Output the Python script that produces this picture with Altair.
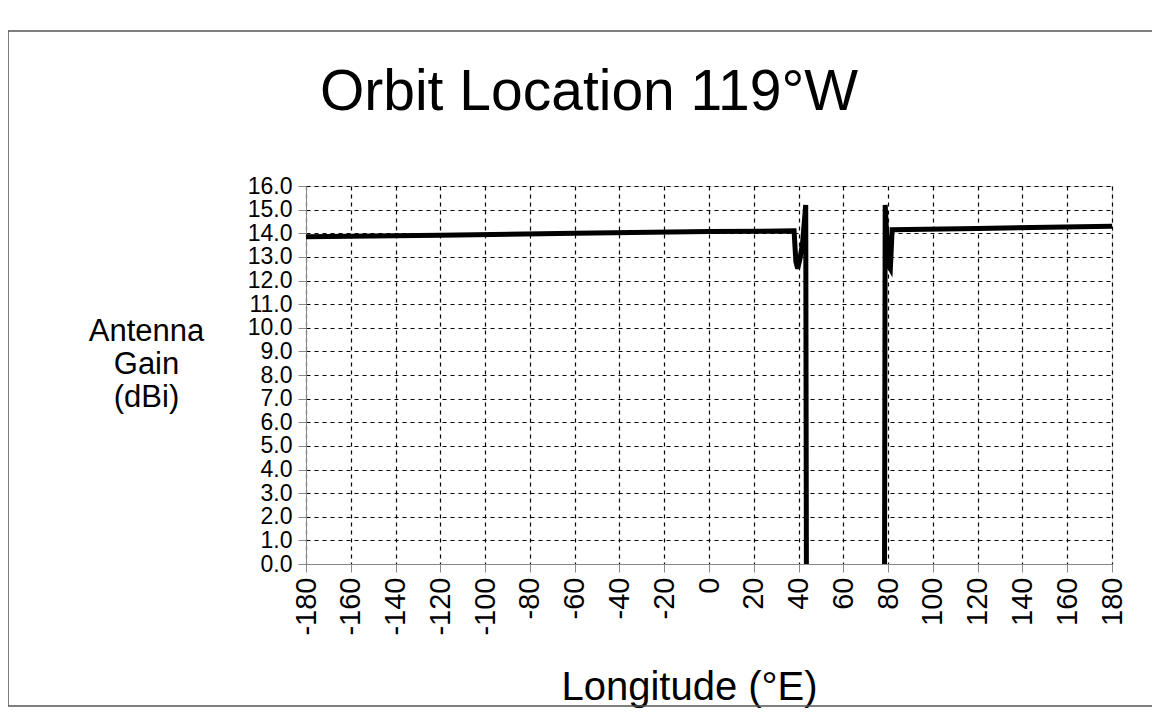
import altair as alt
import pandas as pd

# ---- data ----
lon_west = [-180, -120, -60, 0, 38.0, 38.8, 39.6, 40.6, 41.8, 43.2, 43.5]
gain_west = [13.85, 13.92, 14.0, 14.07, 14.1, 12.8, 12.5, 12.9, 13.6, 15.2, 0.0]
lon_east = [78.4, 78.7, 79.6, 80.4, 81.0, 81.8, 120, 180]
gain_east = [0.0, 15.2, 13.5, 12.6, 12.5, 14.15, 14.2, 14.3]

x_ticks = list(range(-180, 181, 20))
y_ticks = list(range(0, 17))
title_text = "Orbit Location 119°W"
y_title = ["Antenna", "Gain", "(dBi)"]
x_title = "Longitude (°E)"

FONT = "Liberation Sans"

df = pd.DataFrame(
    {
        "lon": lon_west + lon_east,
        "gain": gain_west + gain_east,
        "seg": ["west"] * len(lon_west) + ["east"] * len(lon_east),
    }
)

W, H = 806, 378

grid_style = dict(gridColor="black", gridDash=[4, 4], gridWidth=1.2, gridOpacity=1)

line = (
    alt.Chart(df)
    .mark_line(color="black", strokeWidth=5, clip=True, strokeJoin="miter")
    .encode(
        x=alt.X(
            "lon:Q",
            scale=alt.Scale(domain=[-180, 180], nice=False, zero=False),
            axis=alt.Axis(
                values=x_ticks,
                format="d",
                labelExpr="replace(datum.label, '\u2212', '-')",
                labelAngle=270,
                labelFontSize=29,
                labelPadding=5,
                tickSize=8,
                title=x_title,
                titleFontSize=40,
                titleFontWeight="normal",
                titleAlign="center",
                titleBaseline="alphabetic",
                titleX=383,
                titleY=135,
                **grid_style,
            ),
        ),
        y=alt.Y(
            "gain:Q",
            scale=alt.Scale(domain=[0, 16], nice=False, zero=False),
            axis=alt.Axis(
                values=y_ticks,
                format=".1f",
                labelFontSize=23,
                labelPadding=6,
                tickSize=8,
                title=y_title,
                titleAngle=0,
                titleFontSize=31,
                titleFontWeight="normal",
                titleAlign="center",
                titleBaseline="alphabetic",
                titleLineHeight=33,
                titleX=-160,
                titleY=154,
                **grid_style,
            ),
        ),
        detail="seg:N",
        order="lon:Q",
    )
)

frame = (
    alt.Chart(alt.Data(values=[{"k": 1}]))
    .mark_rect(fillOpacity=0, stroke="#555555", strokeWidth=1.5)
    .encode(
        x=alt.value(-298),
        x2=alt.value(869),
        y=alt.value(-155),
        y2=alt.value(520),
    )
)

title = (
    alt.Chart(alt.Data(values=[{"t": title_text}]))
    .mark_text(
        font=FONT,
        fontSize=57,
        color="black",
        align="center",
        baseline="alphabetic",
    )
    .encode(text="t:N", x=alt.value(283), y=alt.value(-76))
)

chart = (
    alt.layer(frame, line, title)
    .properties(
        width=W,
        height=H,
        autosize=alt.AutoSizeParams(type="none"),
        padding={"left": 298, "top": 178, "right": 40, "bottom": 145},
    )
    .configure_view(stroke="black", strokeWidth=1.5)
    .configure_axis(
        domainColor="black",
        domainWidth=1.5,
        tickColor="black",
        tickWidth=1.5,
        labelColor="black",
        titleColor="black",
        labelFont=FONT,
        titleFont=FONT,
    )
    .configure(background="white")
)

chart.save("out.html", embed_options={"renderer": "svg", "actions": False})
